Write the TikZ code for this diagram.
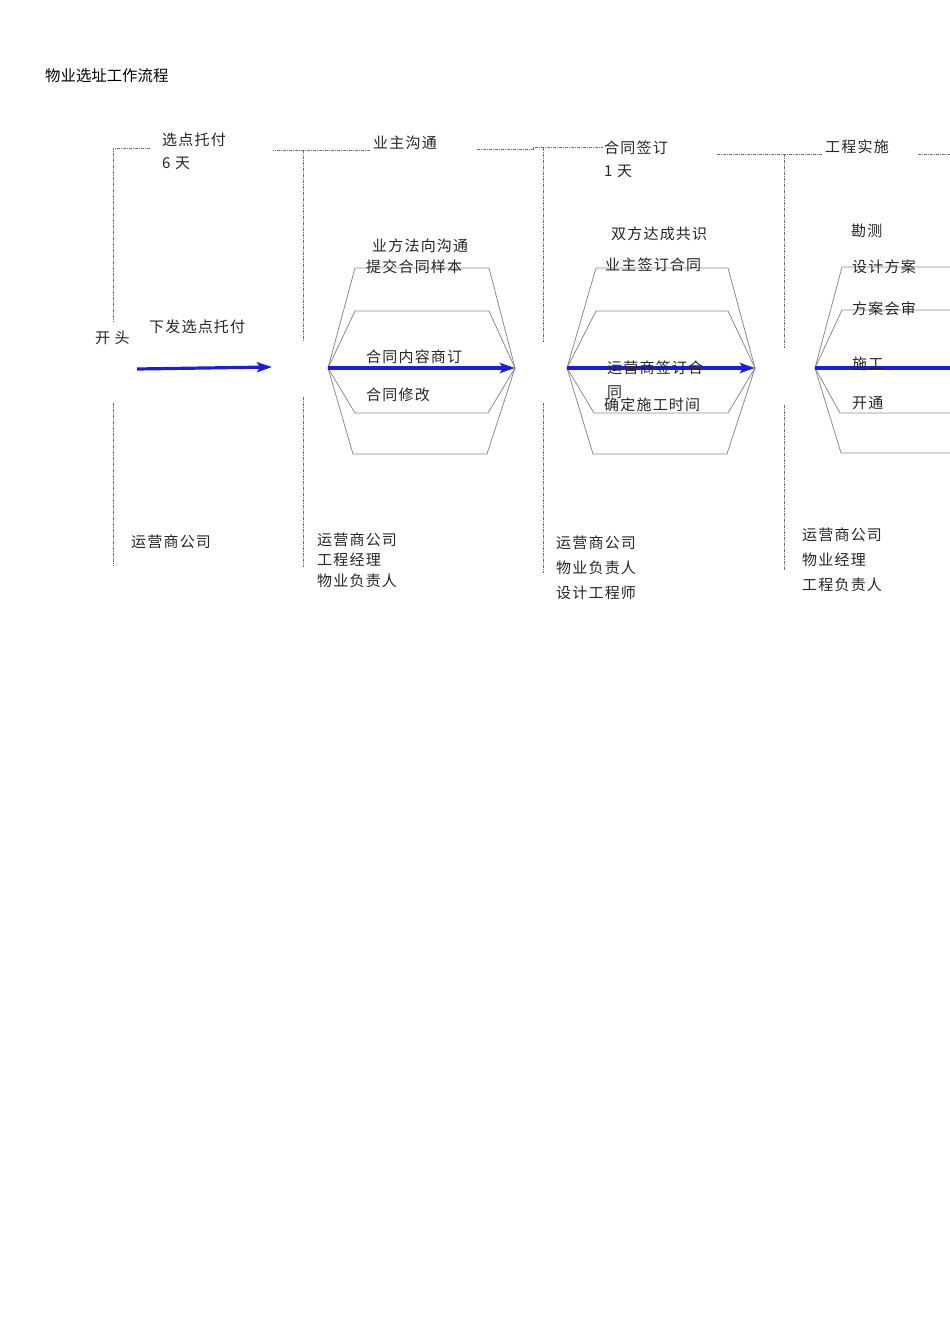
\documentclass[tikz,border=0pt]{standalone}
\usepackage{fontspec}
\setmainfont{Noto Sans CJK SC}
\newfontfamily\cjkfont[LetterSpace=8]{Noto Sans CJK SC}
\newfontfamily\ttlfont{Noto Sans CJK SC}
\usetikzlibrary{arrows.meta}
\definecolor{flowblue}{RGB}{28,28,222}
\definecolor{hexgray}{RGB}{140,140,140}
\definecolor{guidegray}{RGB}{110,110,110}
\begin{document}
\begin{tikzpicture}[x=1pt,y=-1pt,
  txt/.style={anchor=west,inner sep=0pt,font=\cjkfont\fontsize{15}{18}\selectfont,text=black!85},
  ttl/.style={anchor=west,inner sep=0pt,font=\ttlfont\fontsize{15.4}{18}\selectfont,text=black},
  guide/.style={draw=guidegray,line width=0.7pt,dash pattern=on 3pt off 1pt on 1pt off 1pt},
  hexline/.style={draw=hexgray,line width=0.8pt},
  flow/.style={draw=flowblue,line width=3.2pt,-{Stealth[length=15pt,width=10pt,inset=3pt]}}
]
\useasboundingbox (0,0) rectangle (950,1344);
\fill[white] (0,0) rectangle (950,1344);
\clip (0,0) rectangle (950,1344);

% title
\node[ttl] (title) at (45,76) {物业选址工作流程};

% phase headers
\node[txt] (h1) at (162,140) {选点托付};
\node[txt] (d1) at (162,163) {6 天};
\node[txt] (h2) at (373,143) {业主沟通};
\node[txt] (h3) at (604,148) {合同签订};
\node[txt] (d3) at (604,171) {1 天};
\node[txt] (h4) at (825,147) {工程实施};

% guide lines (dashed)
\coordinate (g1t) at (113,148);
\draw[guide] (150,148) -- (g1t) -- (113,322);
\draw[guide] (113,403) -- (113,566);
\draw[guide] (370,150) -- (273,150);
\draw[guide] (303,150) -- (303,342);
\draw[guide] (303,397) -- (303,567);
\draw[guide] (477,149) -- (533,149) -- (533,147) -- (603,147);
\draw[guide] (543,148) -- (543,342);
\draw[guide] (543,403) -- (543,573);
\draw[guide] (717,154) -- (822,154);
\draw[guide] (784,154) -- (784,348);
\draw[guide] (784,405) -- (784,570);
\draw[guide] (918,154) -- (950,154);

% start
\node[txt] (start) at (95,338) {开 头};
\node[txt] (issue) at (149,327) {下发选点托付};
\coordinate (a0s) at (137,369);
\coordinate (a0e) at (272,367);
\draw[flow] (a0s) -- (a0e);

% hexagon 1
\coordinate (L1) at (328,368);
\coordinate (R1) at (515,368);
\draw[hexline] (L1) -- (355,268) -- (489,268) -- (R1) -- (487,454) -- (353,454) -- cycle;
\draw[hexline] (L1) -- (355,311) -- (489,311) -- (R1) -- (488,413) -- (355,413) -- cycle;
\draw[flow] (L1) -- (R1);
\node[txt] (t11) at (372,246) {业方法向沟通};
\node[txt] (t12) at (366,267) {提交合同样本};
\node[txt] (t13) at (366,357) {合同内容商订};
\node[txt] (t14) at (366,395) {合同修改};

% hexagon 2
\coordinate (L2) at (567,368);
\coordinate (R2) at (755,368);
\draw[hexline] (L2) -- (596,268) -- (728,268) -- (R2) -- (727,454) -- (593,454) -- cycle;
\draw[hexline] (L2) -- (596,311) -- (728,311) -- (R2) -- (728,413) -- (594,413) -- cycle;
\draw[flow] (L2) -- (R2);
\node[txt] (t21) at (611,234) {双方达成共识};
\node[txt] (t22) at (605,265) {业主签订合同};
\node[txt,align=left,font=\cjkfont\fontsize{15}{24}\selectfont] (t23) at (607,380) {运营商签订合\\同};
\node[txt] (t24) at (604,405) {确定施工时间};

% hexagon 3 (cut by page edge)
\coordinate (L3) at (815,368);
\coordinate (R3) at (1003,368);
\draw[hexline] (L3) -- (842,267) -- (976,267) -- (R3) -- (976,453) -- (841,453) -- cycle;
\draw[hexline] (L3) -- (842,310) -- (976,310) -- (R3) -- (976,413) -- (840,413) -- cycle;
\draw[flow] (L3) -- (R3);
\node[txt] (t31) at (851,231) {勘测};
\node[txt] (t32) at (852,267) {设计方案};
\node[txt] (t33) at (852,309) {方案会审};
\node[txt] (t34) at (852,364) {施工};
\node[txt] (t35) at (852,403) {开通};

% responsible parties
\node[txt] (p1) at (131,542) {运营商公司};
\node[txt,align=left,font=\cjkfont\fontsize{15}{20.5}\selectfont] (p2) at (317,560) {运营商公司\\工程经理\\物业负责人};
\node[txt,align=left,font=\cjkfont\fontsize{15}{25}\selectfont] (p3) at (556,568) {运营商公司\\物业负责人\\设计工程师};
\node[txt,align=left,font=\cjkfont\fontsize{15}{25}\selectfont] (p4) at (802,560) {运营商公司\\物业经理\\工程负责人};
\end{tikzpicture}
\end{document}
